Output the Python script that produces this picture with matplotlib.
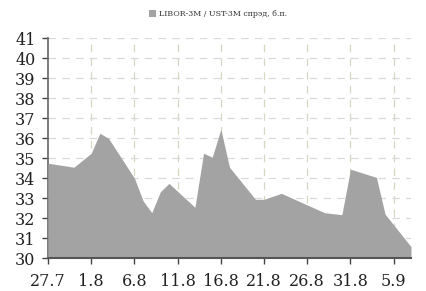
import pandas as pd
import matplotlib
matplotlib.use("Agg")
from matplotlib import pyplot as plt

# LIBOR-3M / UST-3M spread, bp
dates = ["2015-07-27", "2015-07-30", "2015-08-01", "2015-08-02", "2015-08-03",
         "2015-08-06", "2015-08-07", "2015-08-08", "2015-08-09", "2015-08-10",
         "2015-08-13", "2015-08-14", "2015-08-15", "2015-08-16", "2015-08-17",
         "2015-08-20", "2015-08-21", "2015-08-23", "2015-08-28", "2015-08-30",
         "2015-08-31", "2015-09-03", "2015-09-04", "2015-09-07"]
spread = [34.75, 34.55, 35.25, 36.25, 36.0,
          34.0, 32.87, 32.27, 33.32, 33.74,
          32.54, 35.25, 35.05, 36.45, 34.55,
          32.94, 32.94, 33.24, 32.27, 32.17,
          34.45, 34.04, 32.2, 30.57]

tick_dates = ["2015-07-27", "2015-08-01", "2015-08-06", "2015-08-11", "2015-08-16",
              "2015-08-21", "2015-08-26", "2015-08-31", "2015-09-05"]
tick_labels = ["27.7", "1.8", "6.8", "11.8", "16.8", "21.8", "26.8", "31.8", "5.9"]
y_ticks = list(range(30, 42))

series_label = "LIBOR-3M / UST-3M спрэд, б.п."

x = pd.to_datetime(dates)
xt = pd.to_datetime(tick_dates)

plt.rcParams['font.family'] = ['DejaVu Serif']

fig = plt.figure(figsize=(4.27, 2.91), dpi=100)
ax = fig.add_axes([0.1124, 0.1134, 0.8501, 0.7543])

ax.fill_between(x, 30, spread, color='#a3a3a3', lw=0, zorder=3, label=series_label)

ax.set_xlim(pd.Timestamp("2015-07-27"), pd.Timestamp("2015-09-07"))
ax.set_ylim(30, 41)
ax.set_xticks(xt)
ax.set_xticklabels(tick_labels)
ax.set_yticks(y_ticks)

# dashed grid under the area
for t in xt[1:]:
    ax.axvline(t, color='#d6d6c2', lw=0.9, ls=(0, (6, 5)), zorder=1)
for v in y_ticks[1:]:
    ax.axhline(v, color='#d9d9d9', lw=0.9, ls=(0, (6, 5)), zorder=1)

for s in ['top', 'right']:
    ax.spines[s].set_visible(False)
ax.spines['left'].set_color('#666666')
ax.spines['left'].set_linewidth(1.2)
ax.spines['bottom'].set_color('#555555')
ax.spines['bottom'].set_linewidth(1.5)
ax.spines['bottom'].set_zorder(4)

ax.tick_params(axis='y', direction='out', length=4, width=1, color='#444444',
               labelsize=11.5, pad=5, colors='#222222')
ax.tick_params(axis='x', direction='out', length=4, width=1, color='#444444',
               labelsize=11.5, pad=6.5, colors='#222222')

fig.legend(loc='center', bbox_to_anchor=(0.51, 0.952), frameon=False,
           fontsize=5.7, handlelength=0.9, handleheight=0.9, handletextpad=0.4,
           labelcolor='#333333')

fig.savefig('out.png', dpi=100)
